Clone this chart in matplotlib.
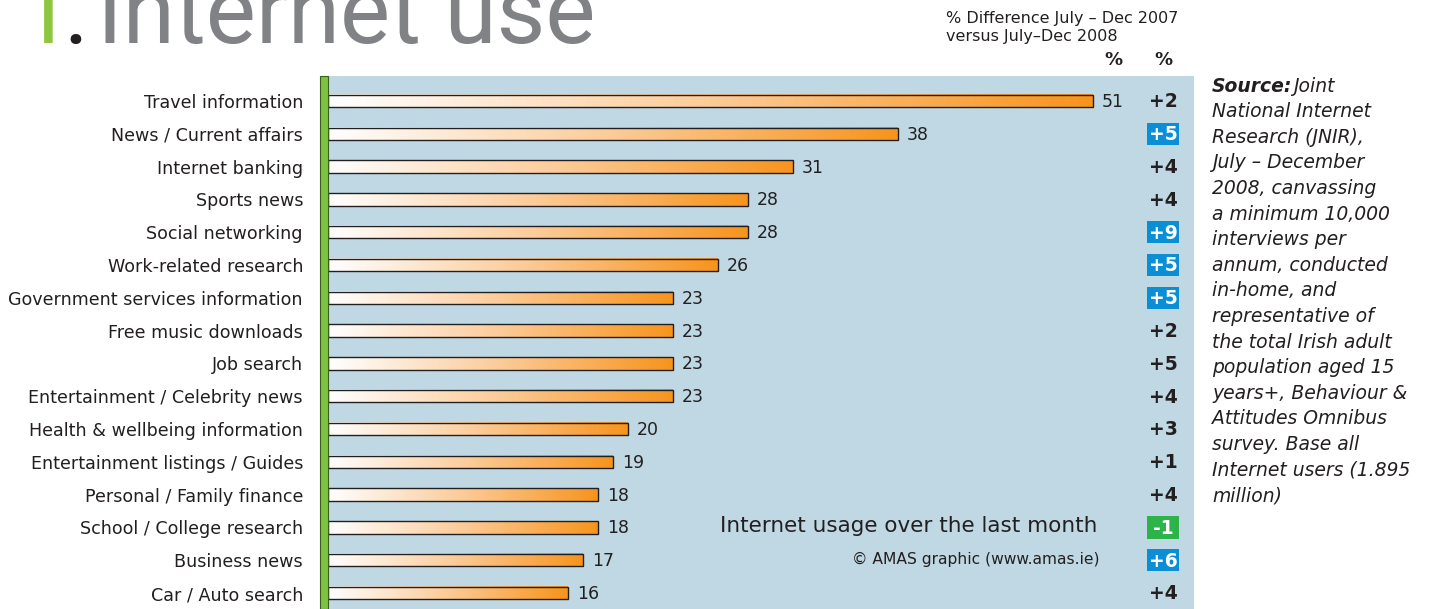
import numpy as np
import matplotlib
matplotlib.use('Agg')
import matplotlib.pyplot as plt
from matplotlib.colors import LinearSegmentedColormap
from matplotlib.patches import Rectangle
from matplotlib.transforms import blended_transform_factory

categories = ['Travel information', 'News / Current affairs', 'Internet banking',
              'Sports news', 'Social networking', 'Work-related research',
              'Government services information', 'Free music downloads', 'Job search',
              'Entertainment / Celebrity news', 'Health & wellbeing information',
              'Entertainment listings / Guides', 'Personal / Family finance',
              'School / College research', 'Business news', 'Car / Auto search']
usage = [51, 38, 31, 28, 28, 26, 23, 23, 23, 23, 20, 19, 18, 18, 17, 16]
diff = ['+2', '+5', '+4', '+4', '+9', '+5', '+5', '+2', '+5', '+4', '+3', '+1', '+4', '-1', '+6', '+4']
badge = [None, 'blue', None, None, 'blue', 'blue', 'blue', None, None, None, None, None, None,
         'green', 'blue', None]

source_lines = ['National Internet', 'Research (JNIR),', 'July \u2013 December',
                '2008, canvassing', 'a minimum 10,000', 'interviews per',
                'annum, conducted', 'in-home, and', 'representative of',
                'the total Irish adult', 'population aged 15', 'years+, Behaviour &',
                'Attitudes Omnibus', 'survey. Base all', 'Internet users (1.895',
                'million)']

W, H = 1430, 609
plt.rcParams['font.family'] = ['DejaVu Sans']
fig = plt.figure(figsize=(W / 100, H / 100), dpi=100)
fig.patch.set_facecolor('white')

# plot panel in pixel coordinates
left, right, top = 328, 1194, 76
ax = fig.add_axes([left / W, 0, (right - left) / W, 1 - top / H])
ax.set_facecolor('#C0D8E4')
for s in ax.spines.values():
    s.set_visible(False)

px_per_unit = 15.0
xmax = (right - left) / px_per_unit
row_px = 32.8
ytop = -(101 - top) / row_px
ybot = 15 + (H - 593) / row_px

cmap = LinearSegmentedColormap.from_list('bar', ['#FFFFFF', '#FCCB98', '#F7941D'])
grad = np.linspace(0, 1, 256).reshape(1, -1)
bh = 0.38
for i, v in enumerate(usage):
    ax.imshow(grad, extent=[0, v, i + bh / 2, i - bh / 2], aspect='auto', cmap=cmap,
              interpolation='bilinear', zorder=2)
    ax.add_patch(Rectangle((0, i - bh / 2), v, bh, fill=False, edgecolor='#231F20',
                           linewidth=1.0, zorder=3))
    ax.text(v + 0.6, i + 0.03, str(v), va='center', ha='left', fontsize=12.5, color='#231F20')

ax.set_xlim(0, xmax)
ax.set_ylim(ybot, ytop)
ax.set_xticks([])
ax.set_yticks(range(len(categories)))
ax.set_yticklabels(categories, fontsize=12.6, color='#231F20')
ax.tick_params(axis='y', length=0, pad=18)

# green axis bar
fig.patches.append(Rectangle((320 / W, 0), 8 / W, 1 - top / H, transform=fig.transFigure,
                             facecolor='#7DC242', edgecolor='#3A5F1A', linewidth=0.8))

# difference column
tr = blended_transform_factory(fig.transFigure, ax.transData)
colors = {'blue': '#0A8FD6', 'green': '#2DB34A'}
bw, bhb = 32 / W, 0.68
for i, d in enumerate(diff):
    c = badge[i]
    if c:
        ax.add_patch(Rectangle((1147 / W, i - bhb / 2), bw, bhb, transform=tr,
                               facecolor=colors[c], edgecolor='none', clip_on=False, zorder=4))
    ax.text(1163 / W, i + 0.03, d, transform=tr, ha='center', va='center', fontsize=13.5,
            fontweight='bold', color='white' if c else '#231F20', zorder=5, clip_on=False)

# headers
fig.text(946 / W, 1 - 18 / H, '% Difference July \u2013 Dec 2007', ha='left', va='center',
         fontsize=11.5, color='#231F20')
fig.text(946 / W, 1 - 36 / H, 'versus July\u2013Dec 2008', ha='left', va='center',
         fontsize=11.5, color='#231F20')
fig.text(1113 / W, 1 - 60 / H, '%', ha='center', va='center', fontsize=13,
         fontweight='bold', color='#231F20')
fig.text(1163 / W, 1 - 60 / H, '%', ha='center', va='center', fontsize=13,
         fontweight='bold', color='#231F20')

# title
tfont = dict(family='Roboto', fontweight='normal', fontsize=68)
fig.text(18 / W, 1 - 43 / H, '1', ha='left', va='baseline', color='#8DC63F', **tfont)
fig.text(63 / W, 1 - 43 / H, '.', ha='left', va='baseline', color='#231F20', **tfont)
fig.text(97 / W, 1 - 43 / H, 'Internet use', ha='left', va='baseline',
         color='#808285', **tfont)

# panel notes
fig.text(720 / W, 1 - 526 / H, 'Internet usage over the last month', ha='left', va='center',
         fontsize=15.5, color='#231F20')
fig.text(1100 / W, 1 - 559 / H, '\u00a9 AMAS graphic (www.amas.ie)', ha='right',
         va='center', fontsize=11.2, color='#231F20')

# source note
y0 = 86
fs = 13.5
fig.text(1212 / W, 1 - y0 / H, 'Source:', ha='left', va='center', fontsize=fs,
         fontweight='bold', style='italic', color='#231F20')
fig.text(1293 / W, 1 - y0 / H, 'Joint', ha='left', va='center', fontsize=fs,
         style='italic', color='#231F20')
for k, line in enumerate(source_lines):
    fig.text(1212 / W, 1 - (y0 + (k + 1) * 25.6) / H, line, ha='left', va='center',
             fontsize=fs, style='italic', color='#231F20')

fig.savefig('out.png', dpi=100)
